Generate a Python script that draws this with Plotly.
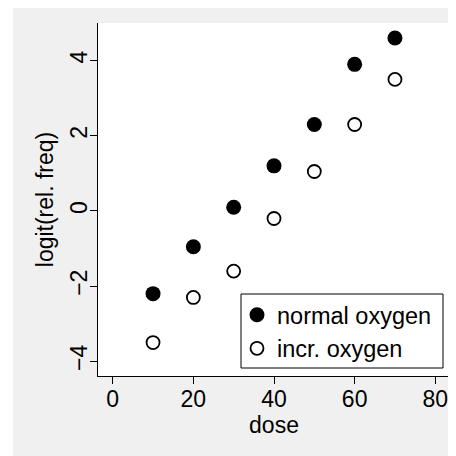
import plotly.graph_objects as go

dose = [10, 20, 30, 40, 50, 60, 70]
normal_oxygen = [-2.2, -0.95, 0.1, 1.2, 2.3, 3.9, 4.6]
incr_oxygen = [-3.5, -2.3, -1.6, -0.2, 1.05, 2.3, 3.5]
x_ticks = [0, 20, 40, 60, 80]
y_ticks = [-4, -2, 0, 2, 4]

# the page body has an 8px margin, so the figure is drawn 8px in from the top-left
W, H = 448, 448
L, R, T, B = 90, 6, 15, 80
pw, ph = W - L - R, H - T - B
FONT = "Liberation Sans, Arial, sans-serif"
GRAY = "#f0f0f0"

fig = go.Figure()
fig.add_trace(go.Scatter(
    x=dose, y=normal_oxygen, mode="markers", name="normal oxygen",
    marker=dict(symbol="circle", size=15, color="black", line=dict(width=0)),
))
fig.add_trace(go.Scatter(
    x=dose, y=incr_oxygen, mode="markers", name="incr. oxygen",
    marker=dict(symbol="circle", size=13, color="white", line=dict(width=1.8, color="black")),
))

# white strip at the left edge (outside the gray panel)
fig.add_shape(type="rect", xref="paper", yref="paper",
              x0=-L / pw - 0.01, x1=(5 - L) / pw, y0=-B / ph - 0.01, y1=(H - B) / ph + 0.01,
              fillcolor="white", line=dict(width=0), layer="below")

# legend frame
fig.add_shape(type="rect", xref="paper", yref="paper",
              x0=(233 - L) / pw, x1=(435 - L) / pw,
              y0=(H - B - 360) / ph, y1=(H - B - 286) / ph,
              fillcolor="white", line=dict(width=1, color="black"), layer="above")

axis_common = dict(
    showgrid=False, zeroline=False, showline=True, linecolor="black", linewidth=1,
    ticks="outside", ticklen=7, tickwidth=1, tickcolor="black",
    tickfont=dict(family=FONT, size=23, color="black"),
    title_font=dict(family=FONT, size=23, color="black"),
    mirror=False, automargin=False,
)

fig.update_layout(
    width=W, height=H,
    margin=dict(l=L, r=R, t=T, b=B, pad=0, autoexpand=False),
    paper_bgcolor=GRAY, plot_bgcolor="white",
    font=dict(family=FONT, size=23, color="black"),
    xaxis=dict(range=[-3.65, 83.65], tickvals=x_ticks, ticklabelstandoff=-5,
               title=dict(text="dose", standoff=0), **axis_common),
    yaxis=dict(range=[-4.39, 5.0], tickvals=y_ticks, tickangle=-90, ticklabelstandoff=-6,
               title=dict(text="logit(rel. freq)", standoff=5), **axis_common),
    showlegend=True,
    legend=dict(x=(234 - L) / pw, y=(H - B - 285) / ph, xanchor="left", yanchor="top",
                bgcolor="rgba(0,0,0,0)", borderwidth=0,
                font=dict(family=FONT, size=23.5, color="black"),
                tracegroupgap=0, itemsizing="trace", indentation=-5),
)

fig.write_html("out.html")
